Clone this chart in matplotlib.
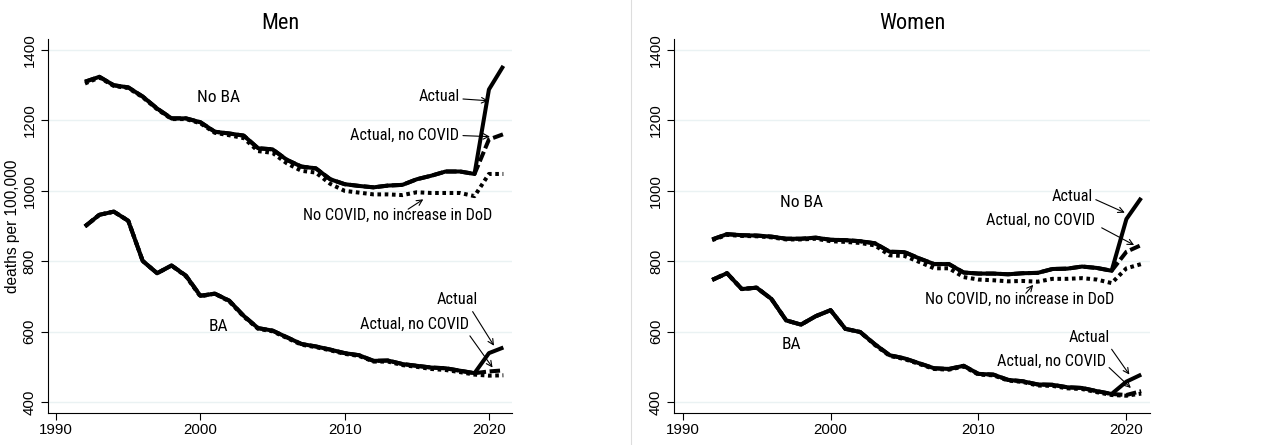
import matplotlib
matplotlib.use("Agg")
import matplotlib.pyplot as plt
from matplotlib.lines import Line2D

plt.rcParams["font.family"] = ["Roboto Condensed", "Liberation Sans", "DejaVu Sans"]
PLAIN = ["Liberation Sans", "DejaVu Sans"]

years = list(range(1992, 2022))

# Men
men_nob_actual = [1310, 1324, 1300, 1294, 1268, 1234, 1206, 1206, 1195, 1168, 1163, 1157, 1121, 1118,
                  1088, 1069, 1064, 1033, 1019, 1014, 1010, 1015, 1017, 1033, 1043, 1055, 1055, 1048,
                  1288, 1355]
men_nob_nocovid = men_nob_actual[:28] + [1146, 1161]
men_nob_nodod = [1305, 1322, 1298, 1292, 1266, 1232, 1204, 1204, 1192, 1165, 1158, 1150, 1113, 1108,
                 1078, 1057, 1052, 1020, 1000, 995, 990, 990, 988, 996, 994, 994, 994, 985,
                 1048, 1048]
men_ba_actual = [899, 932, 941, 915, 801, 766, 788, 759, 702, 708, 688, 645, 610, 603,
                 584, 565, 558, 549, 539, 533, 517, 518, 508, 503, 498, 496, 489, 482,
                 539, 555]
men_ba_nocovid = men_ba_actual[:28] + [487, 490]
men_ba_nodod = [899, 932, 941, 915, 801, 766, 788, 757, 700, 708, 686, 643, 608, 601,
                582, 563, 556, 547, 537, 531, 515, 515, 505, 500, 494, 491, 485, 478,
                475, 476]

# Women
wom_nob_actual = [862, 877, 874, 873, 870, 864, 864, 867, 861, 860, 857, 851, 827, 826,
                  808, 792, 792, 768, 765, 765, 763, 766, 767, 778, 779, 785, 781, 773,
                  920, 980]
wom_nob_nocovid = wom_nob_actual[:28] + [827, 846]
wom_nob_nodod = [860, 875, 872, 871, 868, 862, 862, 864, 857, 855, 852, 845, 817, 815,
                 798, 780, 780, 755, 748, 746, 743, 744, 742, 750, 750, 752, 748, 738,
                 780, 792]
wom_ba_actual = [747, 766, 721, 725, 693, 632, 620, 644, 661, 608, 599, 564, 533, 524,
                 510, 496, 494, 503, 480, 478, 463, 459, 450, 449, 442, 440, 431, 423,
                 458, 478]
wom_ba_nocovid = wom_ba_actual[:28] + [420, 431]
wom_ba_nodod = [747, 766, 721, 725, 693, 632, 620, 644, 661, 608, 599, 562, 531, 522,
                508, 494, 492, 501, 478, 476, 461, 457, 447, 446, 439, 437, 428, 420,
                418, 424]

yticks = [400, 600, 800, 1000, 1200, 1400]
xticks = [1990, 2000, 2010, 2020]

fig = plt.figure(figsize=(12.63, 4.45), dpi=100)
ax1 = fig.add_axes([0.0378, 0.072, 0.3676, 0.840])
ax2 = fig.add_axes([0.5337, 0.072, 0.3769, 0.840])

LW = 2.9
grid_c = "#EAF2F3"


def draw(ax, series):
    for actual, nocovid, nodod in series:
        ax.plot(years, nodod, color="black", lw=LW, linestyle=(0, (0.9, 0.9)), dash_capstyle="butt")
        ax.plot(years, nocovid, color="black", lw=LW, linestyle=(0, (2.6, 0.9)), dash_capstyle="butt")
        ax.plot(years, actual, color="black", lw=LW, solid_capstyle="butt")
    ax.set_xlim(1989.42, 2021.6)
    ax.set_ylim(369, 1431)
    ax.set_xticks(xticks)
    ax.set_yticks(yticks)
    ax.yaxis.grid(True, color=grid_c, lw=1)
    ax.set_axisbelow(True)
    for s in ["top", "right"]:
        ax.spines[s].set_visible(False)
    for s in ["left", "bottom"]:
        ax.spines[s].set_linewidth(0.8)
    ax.tick_params(direction="out", length=5, width=0.8)
    ax.tick_params(axis="y", pad=3)
    ax.tick_params(axis="x", pad=2)
    for lab in ax.get_yticklabels():
        lab.set_rotation(90)
        lab.set_va("center")
    for lab in ax.get_xticklabels() + ax.get_yticklabels():
        lab.set_family(PLAIN)
        lab.set_fontsize(10.8)


draw(ax1, [(men_nob_actual, men_nob_nocovid, men_nob_nodod),
           (men_ba_actual, men_ba_nocovid, men_ba_nodod)])
draw(ax2, [(wom_nob_actual, wom_nob_nocovid, wom_nob_nodod),
           (wom_ba_actual, wom_ba_nocovid, wom_ba_nodod)])

ax1.set_title("Men", fontsize=16, pad=7)
ax2.set_title("Women", fontsize=16, pad=7)
ax1.set_ylabel("deaths per 100,000", fontsize=11.2, labelpad=2, family=PLAIN)

TS = 11.7
arr = dict(arrowstyle="->", color="black", lw=0.8, shrinkA=0, shrinkB=0)

# Men labels
ax1.text(2001.25, 1265, "No BA", fontsize=TS + 0.8, ha="center", va="center")
ax1.text(2001.25, 615, "BA", fontsize=TS + 0.8, ha="center", va="center")
ax1.text(2018.0, 1268, "Actual", fontsize=TS, ha="right", va="center")
ax1.annotate("", xy=(2019.95, 1256), xytext=(2018.2, 1261), arrowprops=arr)
ax1.text(2017.9, 1157, "Actual, no COVID", fontsize=TS, ha="right", va="center")
ax1.annotate("", xy=(2020.07, 1154), xytext=(2018.2, 1157), arrowprops=arr)
ax1.text(2013.67, 930, "No COVID, no increase in DoD", fontsize=TS, ha="center", va="center")
ax1.annotate("", xy=(2015.45, 976), xytext=(2014.4, 948), arrowprops=arr)
ax1.text(2017.8, 692, "Actual", fontsize=TS, ha="center", va="center")
ax1.annotate("", xy=(2020.35, 560), xytext=(2018.87, 657), arrowprops=arr)
ax1.text(2014.87, 620, "Actual, no COVID", fontsize=TS, ha="center", va="center")
ax1.annotate("", xy=(2020.25, 498), xytext=(2018.68, 588), arrowprops=arr)

# Women labels
ax2.text(1998.04, 966, "No BA", fontsize=TS + 0.8, ha="center", va="center")
ax2.text(1997.36, 563, "BA", fontsize=TS + 0.8, ha="center", va="center")
ax2.text(2017.75, 983, "Actual", fontsize=TS, ha="right", va="center")
ax2.annotate("", xy=(2019.89, 938), xytext=(2017.93, 975), arrowprops=arr)
ax2.text(2017.88, 915, "Actual, no COVID", fontsize=TS, ha="right", va="center")
ax2.annotate("", xy=(2020.52, 846), xytext=(2018.33, 895), arrowprops=arr)
ax2.text(2012.75, 692, "No COVID, no increase in DoD", fontsize=TS, ha="center", va="center")
ax2.annotate("", xy=(2013.7, 733), xytext=(2013.2, 709), arrowprops=arr)
ax2.text(2017.5, 582, "Actual", fontsize=TS, ha="center", va="center")
ax2.annotate("", xy=(2020.2, 478), xytext=(2019.0, 550), arrowprops=arr)
ax2.text(2014.95, 515, "Actual, no COVID", fontsize=TS, ha="center", va="center")
ax2.annotate("", xy=(2020.3, 440), xytext=(2018.83, 498), arrowprops=arr)

fig.add_artist(Line2D([0.4995, 0.4995], [0, 1], color="#DDDDDD", lw=0.8))

fig.savefig("out.png", dpi=100)
